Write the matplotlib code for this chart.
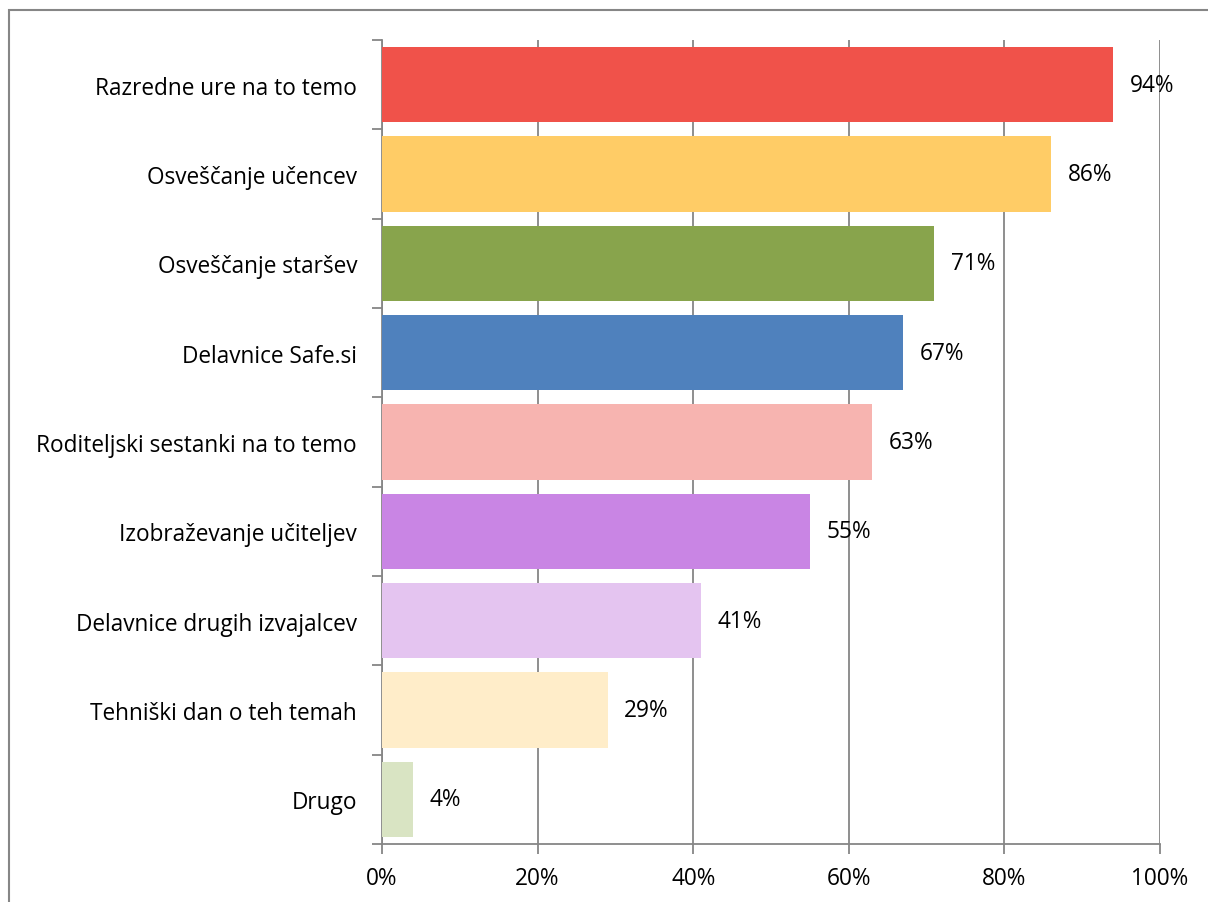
import numpy as np
import matplotlib
matplotlib.use('Agg')
import matplotlib.pyplot as plt
from matplotlib.patches import Rectangle
from matplotlib.ticker import MultipleLocator, FuncFormatter

categories = ['Razredne ure na to temo', 'Osveščanje učencev', 'Osveščanje staršev',
              'Delavnice Safe.si', 'Roditeljski sestanki na to temo', 'Izobraževanje učiteljev',
              'Delavnice drugih izvajalcev', 'Tehniški dan o teh temah', 'Drugo']
values = [94, 86, 71, 67, 63, 55, 41, 29, 4]
colors = ['#F0524A', '#FFCC66', '#88A44C', '#4F81BD', '#F7B4B0',
          '#C985E4', '#E4C4F0', '#FFEDC9', '#D9E4C3']

plt.rcParams['font.family'] = ['Open Sans', 'DejaVu Sans']
grey = '#868686'
fs = 16.3

fig = plt.figure(figsize=(12.08, 9.03), dpi=100)
W, H = 1208, 903
ax = fig.add_axes([382 / W, 1 - 845 / H, (1160 - 382) / W, (845 - 41) / H])

# outer chart border
fig.patches.append(Rectangle((9 / W, -0.1), 1.2, 1 - 11 / H + 0.1, transform=fig.transFigure,
                             fill=False, edgecolor=grey, linewidth=1.5))

y = np.arange(len(categories))
ax.barh(y, values, height=0.84, color=colors, zorder=3)
for yi, v in zip(y, values):
    ax.text(v + 2.1, yi, f'{v}%', va='center', ha='left', fontsize=fs, zorder=4)

ax.set_ylim(len(categories) - 0.5, -0.5)
ax.set_xlim(0, 100)
ax.xaxis.set_major_locator(MultipleLocator(20))
ax.xaxis.set_major_formatter(FuncFormatter(lambda v, p: f'{int(v)}%'))
ax.set_yticks(y)
ax.set_yticklabels(categories, fontsize=fs)
ax.set_yticks(np.arange(-0.5, len(categories)), minor=True)
ax.tick_params(axis='y', which='major', length=0, pad=18)
ax.tick_params(axis='y', which='minor', length=7, color=grey, width=1.3)
ax.tick_params(axis='x', length=7, color=grey, width=1.3, labelsize=fs, pad=9)
ax.grid(axis='x', color=grey, linewidth=1.3, zorder=0)
for s in ['top', 'right']:
    ax.spines[s].set_visible(False)
for s in ['left', 'bottom']:
    ax.spines[s].set_color(grey)
    ax.spines[s].set_linewidth(1.3)

fig.savefig('out.png', dpi=100)
